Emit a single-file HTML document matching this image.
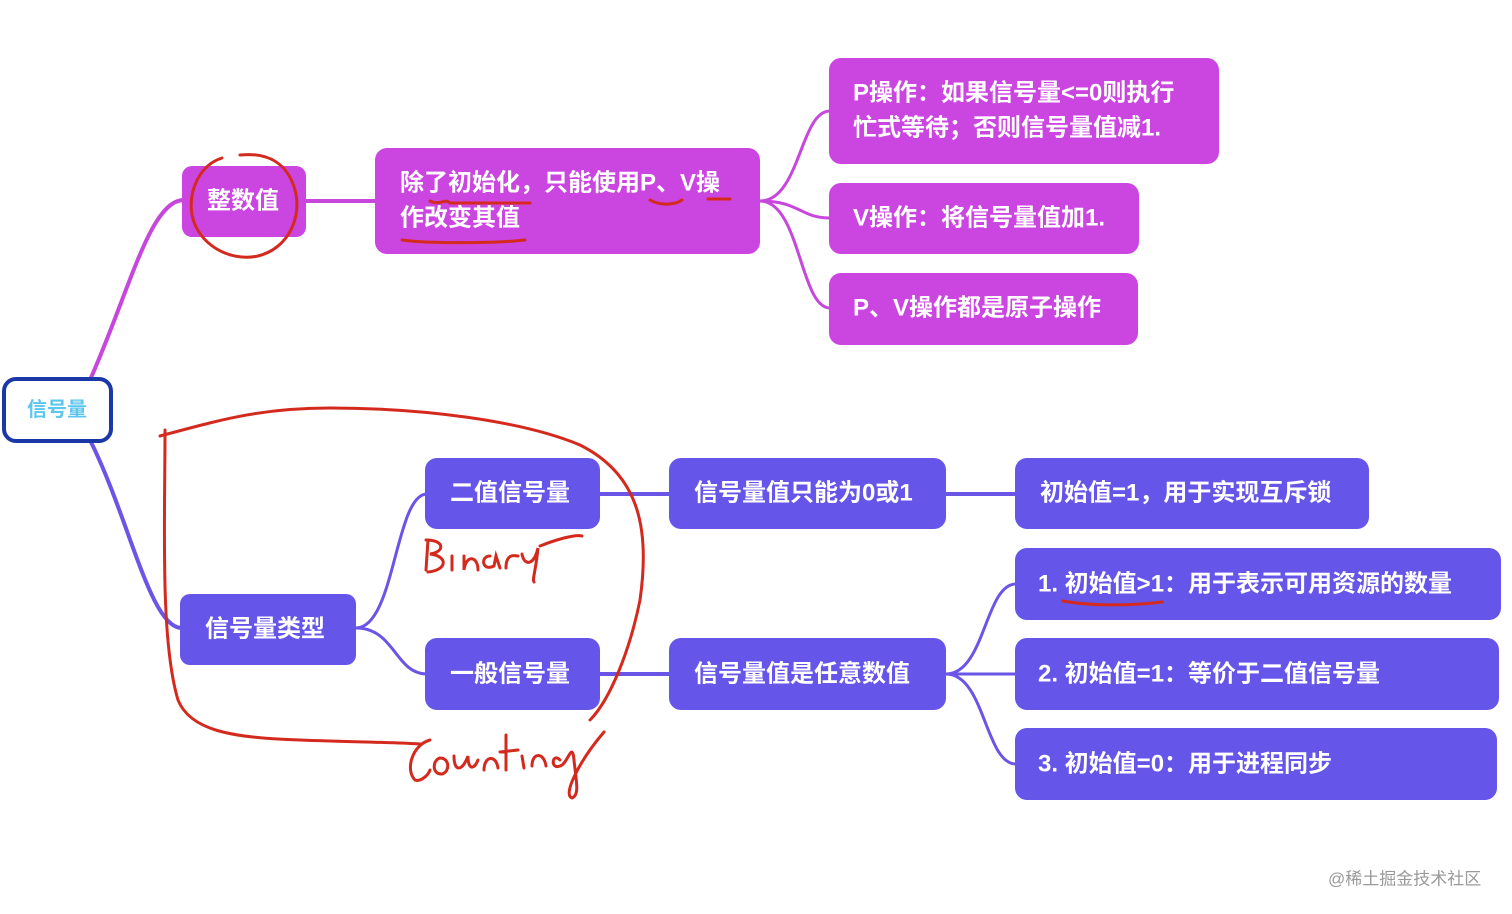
<!DOCTYPE html>
<html><head><meta charset="utf-8"><style>
html,body{margin:0;padding:0;background:#fff;width:1512px;height:914px;overflow:hidden}
svg text{font-family:"Liberation Sans","Noto Sans CJK SC",sans-serif;font-size:24px;font-weight:bold;fill:#fff;dominant-baseline:central}
</style></head><body>
<svg width="1512" height="914" xmlns="http://www.w3.org/2000/svg">
<g fill="none" stroke-width="4">
<path d="M90 380 C130 290 150 200 184 200" stroke="#c746dc"/>
<path d="M90 440 C130 520 150 628 182 628" stroke="#6a55e6"/>
<path d="M306 201 L376 201" stroke="#c746dc"/>
<path d="M760 201 C800 201 800 111 830 111" stroke="#c746dc" stroke-width="3"/>
<path d="M760 201 C800 201 800 218 830 218" stroke="#c746dc" stroke-width="3"/>
<path d="M760 201 C800 201 800 308 830 308" stroke="#c746dc" stroke-width="3"/>
<path d="M356 628 C395 628 395 494 427 494" stroke="#6a55e6" stroke-width="3"/>
<path d="M356 628 C395 628 395 674 427 674" stroke="#6a55e6" stroke-width="3"/>
<path d="M600 494 L670 494 M600 674 L670 674 M946 494 L1016 494" stroke="#6a55e6"/>
<path d="M946 674 C985 674 985 584 1016 584" stroke="#6a55e6" stroke-width="3"/>
<path d="M946 674 L1016 674" stroke="#6a55e6" stroke-width="3"/>
<path d="M946 674 C985 674 985 764 1016 764" stroke="#6a55e6" stroke-width="3"/>
</g>
<rect x="4" y="379" width="107" height="62" rx="12" fill="#fff" stroke="#1c37a6" stroke-width="4"/>
<text x="57" y="410" text-anchor="middle" style="fill:#5cc6ee;font-size:20px">信号量</text>
<g fill="#cb45e1">
<rect x="182" y="166" width="124" height="71" rx="10"/>
<rect x="375" y="148" width="385" height="106" rx="12"/>
<rect x="829" y="58" width="390" height="106" rx="12"/>
<rect x="829" y="183" width="310" height="71" rx="12"/>
<rect x="829" y="273" width="309" height="72" rx="12"/>
</g>
<g fill="#6555e8">
<rect x="180" y="594" width="176" height="71" rx="10"/>
<rect x="425" y="458" width="175" height="71" rx="12"/>
<rect x="425" y="638" width="175" height="72" rx="12"/>
<rect x="669" y="458" width="277" height="71" rx="12"/>
<rect x="669" y="638" width="277" height="72" rx="12"/>
<rect x="1015" y="458" width="354" height="71" rx="12"/>
<rect x="1015" y="548" width="486" height="72" rx="12"/>
<rect x="1015" y="638" width="484" height="72" rx="12"/>
<rect x="1015" y="728" width="482" height="72" rx="12"/>
</g>
<text x="207" y="201">整数值</text>
<text x="400" y="183">除了初始化，只能使用P、V操</text>
<text x="400" y="218">作改变其值</text>
<text x="853" y="93">P操作：如果信号量&lt;=0则执行</text>
<text x="853" y="128">忙式等待；否则信号量值减1.</text>
<text x="853" y="218">V操作：将信号量值加1.</text>
<text x="853" y="308">P、V操作都是原子操作</text>
<text x="205" y="629">信号量类型</text>
<text x="450" y="493">二值信号量</text>
<text x="450" y="674">一般信号量</text>
<text x="694" y="493">信号量值只能为0或1</text>
<text x="694" y="674">信号量值是任意数值</text>
<text x="1040" y="493">初始值=1，用于实现互斥锁</text>
<text x="1038" y="584">1. 初始值&gt;1：用于表示可用资源的数量</text>
<text x="1038" y="674">2. 初始值=1：等价于二值信号量</text>
<text x="1038" y="764">3. 初始值=0：用于进程同步</text>
<text x="1328" y="879" style="fill:#9a9a9a;font-size:17px;font-weight:normal">@稀土掘金技术社区</text>
<g fill="none" stroke="#d42a1e" stroke-width="3" stroke-linecap="round">
<path d="M222 158 C200 165 188 190 192 215 C198 245 230 262 258 256 C290 248 302 215 295 190 C288 165 270 152 240 155"/>
<path d="M430 201 C440 206 445 198 450 203 L530 203"/>
<path d="M650 200 C660 206 675 205 682 200 M708 199 L730 199"/>
<path d="M402 240 C430 244 500 243 525 240"/>
<path d="M1063 601 C1090 606 1130 606 1162 602"/>
<path d="M160 436 C220 420 260 408 330 408 C420 408 520 420 580 445 C640 475 650 530 640 600 C630 650 610 700 590 720"/>
<path d="M165 430 C165 520 160 640 178 700 C190 730 230 738 300 740 C350 742 390 742 420 744"/>
<path d="M428 540 L426 570 M426 540 C445 540 445 552 430 554 C448 556 448 570 428 572"/>
<path d="M452 556 L452 570 M464 556 L464 570 C466 554 478 556 478 570 M490 556 C480 556 482 572 494 566 L496 556 L500 568 M506 568 C506 552 516 556 518 556 M522 554 C524 566 534 566 538 548 C536 570 532 580 534 582 M540 546 C555 540 575 534 582 536"/>
<path d="M430 740 C412 745 405 770 415 780 C420 782 428 776 430 770 M440 758 C432 760 432 775 442 774 C450 772 450 758 440 758 M454 756 C454 772 462 772 468 756 C468 770 474 770 478 760 M484 770 C484 756 496 754 498 768 M506 735 L506 770 M500 752 L518 750 M522 756 L524 768 M532 766 C532 752 544 752 546 766 M560 760 C552 752 550 770 560 766 C568 764 572 740 574 760 C576 780 580 795 572 798 C562 795 580 760 604 732"/>
</g>
</svg>
</body></html>
